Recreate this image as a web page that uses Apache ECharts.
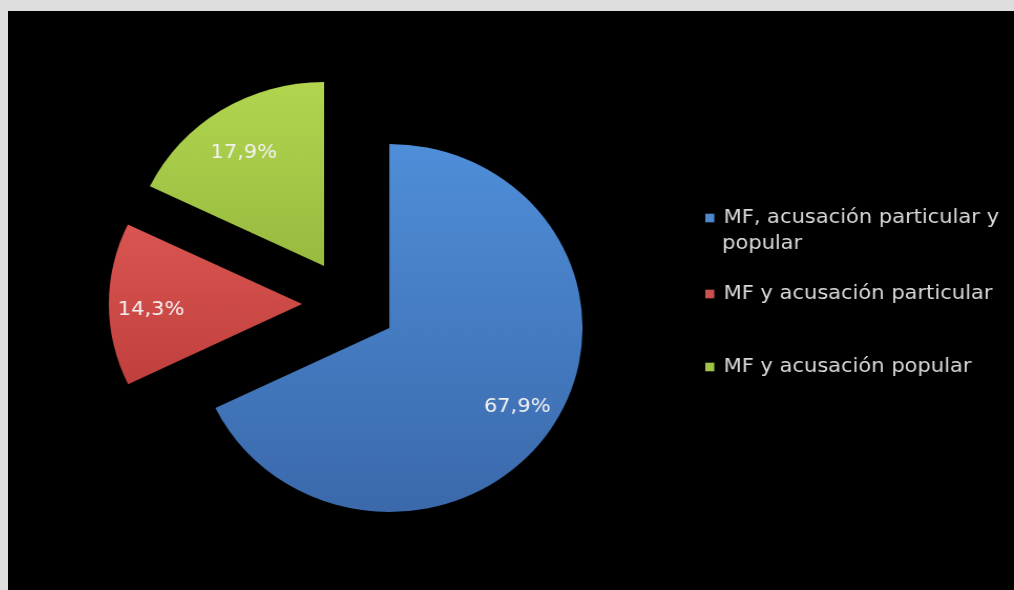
<!DOCTYPE html>
<html>
<head>
<meta charset="utf-8">
<script src="https://cdn.jsdelivr.net/npm/echarts@6/dist/echarts.min.js"></script>
<style>
  html, body { margin: 0; padding: 0; background: #000; width: 1014px; height: 590px; overflow: hidden; }
  .edge { position: absolute; background: #dedede; z-index: 2; }
  #edgeTop { left: 0; top: 0; width: 1014px; height: 11px; }
  #edgeLeft { left: 0; top: 0; width: 8px; height: 590px; }
  #chart { position: absolute; left: 8px; top: 11px; width: 958px; height: 579px; background: #000; }
</style>
</head>
<body>
<div id="chart"></div>
<div class="edge" id="edgeTop"></div>
<div class="edge" id="edgeLeft"></div>
<script>
// Categories and their shares (%)
const categories = [
  'MF, acusación particular y popular',
  'MF y acusación particular',
  'MF y acusación popular'
];
const shares = [67.9, 14.3, 17.9];

// Legend lines (the first entry wraps onto two lines)
const legendLines = [
  ['MF, acusación particular y', 'popular'],
  ['MF y acusación particular'],
  ['MF y acusación popular']
];

// Slice fills: [top, bottom] of each vertical gradient
const fills = [
  ['#4f8ed9', '#3b69ab'],
  ['#da5551', '#c0403d'],
  ['#b2d54f', '#98bb40']
];
const legendSwatch = ['#4f86cc', '#c9504d', '#a0c447'];

const FONT = 'DejaVu Sans';
const FS = 20;
const CENTER = [325, 293];
const R = 184;
const EXPLODE = 45;
// the drawing is widened horizontally by this factor
const STRETCH_X = 1.05;
// small vertical nudges for the percentage labels
const LABEL_DY = [2, 6, 9];

function grad(pair) {
  return new echarts.graphic.LinearGradient(0, 0, 0, 1, [
    { offset: 0, color: pair[0] },
    { offset: 1, color: pair[1] }
  ]);
}

const sliceData = categories.map((name, i) => ({
  name: name,
  value: shares[i],
  selected: true,
  itemStyle: { color: grad(fills[i]) }
}));

// Invisible twin of the pie that only carries the percentage labels
const labelData = categories.map((name, i) => ({
  name: name,
  value: shares[i],
  selected: true
}));

const fmtPct = v => v.toFixed(1).replace('.', ',') + '%';

const LEG_LEFT = 659;
function legendFor(i, top) {
  return {
    orient: 'vertical',
    left: LEG_LEFT,
    top: top,
    itemWidth: 8.6,
    itemHeight: 8.6,
    itemGap: 0,
    icon: 'rect',
    selectedMode: false,
    data: [{ name: categories[i], itemStyle: { color: legendSwatch[i] } }],
    formatter: () => legendLines[i][0],
    textStyle: {
      color: '#dadada',
      fontFamily: FONT,
      fontSize: FS,
      lineHeight: 25,
      padding: [0, 0, 0, 3.8]
    }
  };
}

const el = document.getElementById('chart');
const chart = echarts.init(el, null, { renderer: 'canvas' });
chart.setOption({
  backgroundColor: '#000',
  animation: false,
  legend: [
    legendFor(0, 189.5),
    legendFor(1, 265.5),
    legendFor(2, 338.5)
  ],
  graphic: [{
    type: 'text',
    left: 680,
    top: 223,
    silent: true,
    style: {
      text: legendLines[0][1],
      fill: '#dadada',
      font: FS + 'px "' + FONT + '"'
    }
  }],
  series: [
    {
      type: 'pie',
      center: CENTER,
      radius: [0, R],
      startAngle: 90,
      clockwise: true,
      selectedMode: 'multiple',
      selectedOffset: EXPLODE,
      silent: true,
      label: { show: false },
      labelLine: { show: false },
      emphasis: { disabled: true },
      data: sliceData
    },
    {
      type: 'pie',
      center: CENTER,
      radius: [0, R * 1.53],
      startAngle: 90,
      clockwise: true,
      selectedMode: 'multiple',
      selectedOffset: EXPLODE,
      silent: true,
      legendHoverLink: false,
      itemStyle: { color: 'rgba(0,0,0,0)' },
      label: {
        show: true,
        position: 'inside',
        formatter: p => fmtPct(p.value),
        color: '#f2f2f2',
        fontFamily: FONT,
        fontSize: FS
      },
      labelLayout: p => ({ dy: LABEL_DY[p.dataIndex] }),
      labelLine: { show: false },
      emphasis: { disabled: true },
      data: labelData
    }
  ]
});

// widen the rendered canvas horizontally
const wideW = Math.round(958 * STRETCH_X) + 'px';
el.style.width = wideW;
el.querySelectorAll('div, canvas').forEach(node => { node.style.width = wideW; });
</script>
</body>
</html>
